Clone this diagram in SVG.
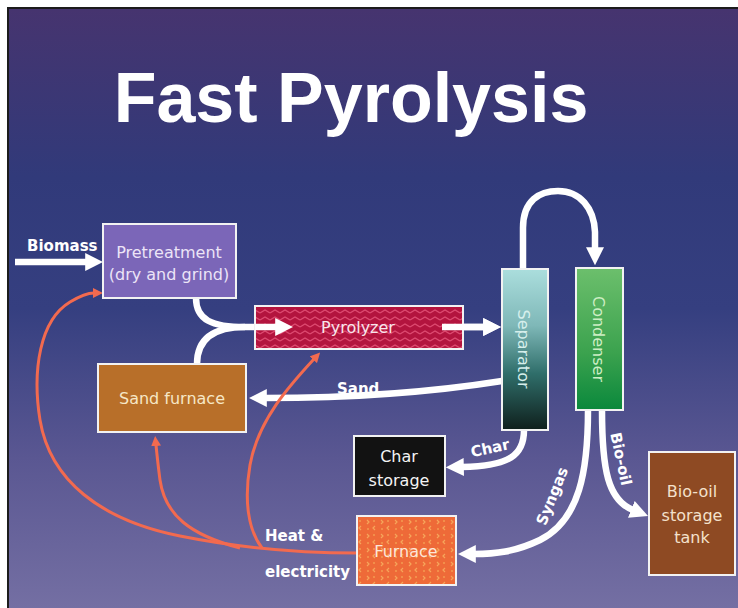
<svg xmlns="http://www.w3.org/2000/svg" width="738" height="608" viewBox="0 0 738 608">
<defs>
<linearGradient id="bg" x1="0" y1="0" x2="0" y2="1">
<stop offset="0" stop-color="#46346f"/>
<stop offset="0.28" stop-color="#313a7a"/>
<stop offset="0.5" stop-color="#353f80"/>
<stop offset="0.75" stop-color="#5a5792"/>
<stop offset="1" stop-color="#746fa3"/>
</linearGradient>
<linearGradient id="sep" x1="0" y1="0" x2="0" y2="1">
<stop offset="0" stop-color="#abdedd"/>
<stop offset="0.35" stop-color="#7fb8b8"/>
<stop offset="0.65" stop-color="#2f6e6a"/>
<stop offset="1" stop-color="#0f1f1c"/>
</linearGradient>
<linearGradient id="con" x1="0" y1="0" x2="0" y2="1">
<stop offset="0" stop-color="#6cbf6c"/>
<stop offset="0.6" stop-color="#3ba24e"/>
<stop offset="1" stop-color="#0a883c"/>
</linearGradient>
<pattern id="zig" width="10" height="7" patternUnits="userSpaceOnUse">
<rect width="10" height="7" fill="#b3143e"/>
<path d="M0,5 L5,2 L10,5" fill="none" stroke="#de4a70" stroke-width="1.3"/>
</pattern>
<pattern id="spark" width="14" height="14" patternUnits="userSpaceOnUse">
<rect width="14" height="14" fill="#ee6a38"/>
<path d="M3,2 l2,2 l-2,2 M11,8 l-2,2 l2,2" fill="none" stroke="#f6a55a" stroke-width="1.2"/>
<circle cx="10" cy="3" r="1" fill="#f49a50"/>
<circle cx="4" cy="11" r="1" fill="#f49a50"/>
</pattern>
<marker id="wa" viewBox="0 0 20 20" markerUnits="userSpaceOnUse" markerWidth="18" markerHeight="18" refX="2" refY="10" orient="auto">
<path d="M0,0 L20,10 L0,20 Z" fill="#ffffff"/>
</marker>
<marker id="oa" viewBox="0 0 10 10" markerUnits="userSpaceOnUse" markerWidth="10" markerHeight="10" refX="1" refY="5" orient="auto">
<path d="M0,0 L10,5 L0,10 Z" fill="#f26a4f"/>
</marker>
<style>
.box{stroke:#f2f2f2;stroke-width:2}
.t{font-family:"DejaVu Sans",Verdana,sans-serif;font-size:16px;text-anchor:middle}
.lb{font-family:"DejaVu Sans",Verdana,sans-serif;font-size:15px;font-weight:bold;fill:#ffffff}
.w{fill:none;stroke:#ffffff;stroke-width:6.5;marker-end:url(#wa)}
.w0{fill:none;stroke:#ffffff;stroke-width:6.5}
.o{fill:none;stroke:#f26a4f;stroke-width:3;marker-end:url(#oa)}
</style>
</defs>
<rect x="0" y="0" width="738" height="608" fill="#ffffff"/>
<rect x="7" y="7" width="731" height="601" fill="#1c1c1c"/>
<rect x="9" y="9" width="729" height="599" fill="url(#bg)"/>
<text x="351" y="122" text-anchor="middle" font-family="'Liberation Sans',Arial,sans-serif" font-size="70" font-weight="bold" fill="#ffffff">Fast Pyrolysis</text>

<g id="connectors">
<path class="w" d="M15,262 H87"/>
<path class="w0" d="M196,298 C196,320 212,327 245,327"/>
<path class="w" d="M197,364 C197,338 215,327 245,327 H277"/>
<path class="w" d="M442,327 H485"/>
<path class="w" d="M523,268 L523,228 C523,200 540,191 558,191 C580,191 594,208 595,232 L595,249"/>
<path class="w" d="M502,381 C420,394 330,398 265,398"/>
<path class="w" d="M524,430 C524,455 510,466 462,467"/>
<path class="w" d="M588,410 C588,470 580,520 540,540 C515,552 495,554 474,554"/>
<path class="w" d="M602,410 C602,470 608,500 633,510"/>
<path class="o" d="M357,553 C300,553 240,548 180,536 C100,520 50,480 40,420 C32,370 40,320 70,302 C80,296 88,293 94,293"/>
<path class="o" d="M240,548 C190,535 165,515 160,480 C158,465 157,455 156,445"/>
<path class="o" d="M262,548 C248,530 244,500 250,465 C258,420 290,385 314,359"/>
<text class="lb" x="27" y="251">Biomass</text>
<text class="lb" x="337" y="394">Sand</text>
<text class="lb" font-size="14" transform="translate(490,448) rotate(-12)" text-anchor="middle" dy="0.35em">Char</text>
<text class="lb" font-size="14" transform="translate(552,496) rotate(-68)" text-anchor="middle" dy="0.35em">Syngas</text>
<text class="lb" font-size="14" transform="translate(621,459) rotate(78)" text-anchor="middle" dy="0.35em">Bio-oil</text>
<text class="lb" x="265" y="541">Heat &amp;</text>
<text class="lb" x="265" y="577" font-size="14">electricity</text>
</g>

<g id="pretreatment">
<rect class="box" x="103" y="224" width="133" height="74" fill="#7b66b8"/>
<text class="t" x="169" y="258" fill="#ece4f7">Pretreatment</text>
<text class="t" x="169" y="280" fill="#ece4f7">(dry and grind)</text>
</g>
<g id="pyrolyzer">
<rect class="box" x="255" y="306" width="208" height="43" fill="url(#zig)"/>
<path class="w" d="M442,327 H485"/>
<path class="w" d="M255,327 H277"/>
<text class="t" x="358" y="333" font-size="17" fill="#f8e6ec">Pyrolyzer</text>
</g>
<g id="sand-furnace">
<rect class="box" x="98" y="364" width="148" height="68" fill="#b86f29"/>
<text class="t" x="172" y="404" font-size="16.5" fill="#f6e7c6">Sand furnace</text>
</g>
<g id="separator">
<rect class="box" x="502" y="269" width="46" height="161" fill="url(#sep)"/>
<text class="t" font-size="16.5" fill="#d6efec" transform="translate(524,349) rotate(90)" dy="0.35em">Separator</text>
</g>
<g id="condenser">
<rect class="box" x="576" y="268" width="47" height="142" fill="url(#con)"/>
<text class="t" font-size="17" fill="#cdeec4" transform="translate(599,339) rotate(90)" dy="0.35em">Condenser</text>
</g>
<g id="char-storage">
<rect class="box" x="354" y="436" width="91" height="60" fill="#121212"/>
<text class="t" x="399" y="462" font-size="16.5" fill="#f4f4f4">Char</text>
<text class="t" x="399" y="486" font-size="16.5" fill="#f4f4f4">storage</text>
</g>
<g id="furnace">
<rect class="box" x="357" y="516" width="99" height="69" fill="url(#spark)"/>
<text class="t" x="406" y="557" font-size="17" fill="#fde7d8">Furnace</text>
</g>
<g id="bio-oil-tank">
<rect class="box" x="649" y="452" width="86" height="123" fill="#8e4a23"/>
<text class="t" x="692" y="497" font-size="16.5" fill="#f4e1cc">Bio-oil</text>
<text class="t" x="692" y="521" font-size="16.5" fill="#f4e1cc">storage</text>
<text class="t" x="692" y="543" font-size="16.5" fill="#f4e1cc">tank</text>
</g>
</svg>
